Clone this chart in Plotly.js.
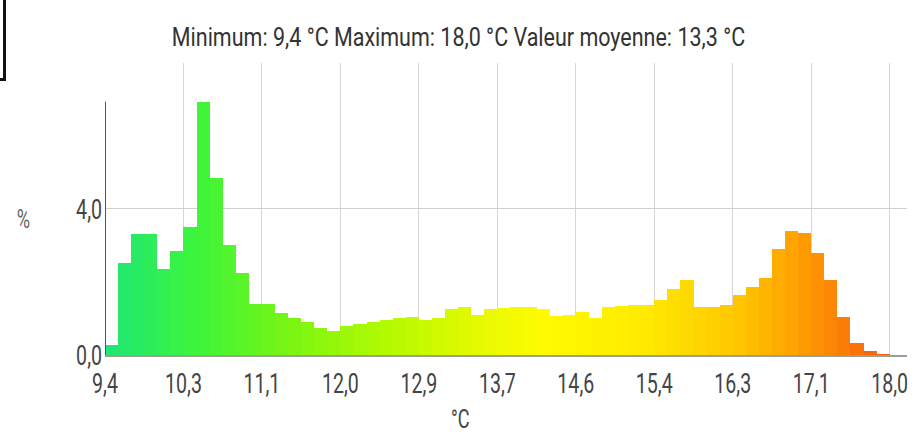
<!DOCTYPE html>
<html>
<head>
<meta charset="utf-8">
<script src="https://cdn.plot.ly/plotly-3.0.1.min.js"></script>
<style>
  html, body { margin: 0; padding: 0; background: #fff; }
  #chart { width: 917px; height: 437px; }
  #corner { position: absolute; left: -20px; top: -5px; width: 20px; height: 80px; border: 3px solid #111; }
</style>
</head>
<body>
<div id="chart"></div>
<div id="corner"></div>
<script>
// Data (60 bins between 9.4 and 18.0 °C)
const binStart = 9.4;
const binEnd = 18.0;
const percentages = [
  0.27, 2.52, 3.30, 3.30, 2.36, 2.85, 3.50, 6.93, 4.85, 3.00,
  2.25, 1.40, 1.40, 1.15, 1.00, 0.90, 0.75, 0.65, 0.80, 0.85,
  0.90, 0.95, 1.00, 1.05, 0.95, 1.00, 1.25, 1.32, 1.10, 1.25,
  1.28, 1.30, 1.32, 1.25, 1.08, 1.10, 1.18, 1.00, 1.30, 1.35,
  1.37, 1.37, 1.50, 1.80, 2.05, 1.30, 1.30, 1.37, 1.64, 1.86,
  2.10, 2.90, 3.40, 3.34, 2.80, 2.05, 1.04, 0.33, 0.10, 0.04
];
const tickValues = [9.4, 10.26, 11.12, 11.98, 12.84, 13.7, 14.56, 15.42, 16.28, 17.14, 18.0];
const tickLabels = ["9,4", "10,3", "11,1", "12,0", "12,9", "13,7", "14,6", "15,4", "16,3", "17,1", "18,0"];
const yTickValues = [0, 4];
const yTickLabels = ["0,0", "4,0"];
const titleText = "Minimum: 9,4 °C Maximum: 18,0 °C Valeur moyenne: 13,3 °C";
const yTitleText = "%";
const xTitleText = "°C";

const n = percentages.length;
const width = (binEnd - binStart) / n;
const centers = percentages.map((_, i) => binStart + width * (i + 0.5));

// colour ramp (style)
const stops = [
  [9.4, [30, 230, 120]],
  [10.4, [60, 245, 60]],
  [11.4, [120, 245, 20]],
  [12.5, [180, 250, 0]],
  [13.5, [230, 250, 0]],
  [14.2, [255, 250, 0]],
  [15.3, [255, 235, 0]],
  [16.3, [255, 200, 0]],
  [17.0, [255, 160, 0]],
  [17.7, [250, 110, 10]],
  [18.0, [235, 90, 15]]
];
function ramp(v) {
  for (let i = 0; i < stops.length - 1; i++) {
    const [a, ca] = stops[i], [b, cb] = stops[i + 1];
    if (v <= b) {
      const t = Math.max(0, (v - a) / (b - a));
      const c = ca.map((x, k) => Math.round(x + (cb[k] - x) * t));
      return `rgb(${c[0]},${c[1]},${c[2]})`;
    }
  }
  const c = stops[stops.length - 1][1];
  return `rgb(${c[0]},${c[1]},${c[2]})`;
}
const colors = centers.map(ramp);

const font = '"Segoe UI", Roboto, "Liberation Sans", sans-serif';

const trace = {
  type: 'bar',
  x: centers,
  y: percentages,
  width: width * 1.001,
  marker: { color: colors, line: { width: 0 } },
  hoverinfo: 'x+y'
};

const layout = {
  width: 917,
  height: 437,
  margin: { l: 105, r: 10, t: 63, b: 82 },
  paper_bgcolor: '#fff',
  plot_bgcolor: '#fff',
  showlegend: false,
  bargap: 0,
  title: {
    text: titleText,
    font: { family: font, size: 25, color: '#333' },
    x: 0.5, xref: 'container', xanchor: 'center',
    y: 0.915, yref: 'container', yanchor: 'middle'
  },
  xaxis: {
    range: [binStart, 18.19],
    tickvals: tickValues,
    ticktext: tickLabels,
    showgrid: true,
    gridcolor: '#d6d6d6',
    gridwidth: 1,
    zeroline: false,
    showline: true,
    linecolor: '#9aa08f',
    linewidth: 2,
    ticks: '',
    ticklabelstandoff: 2,
    tickfont: { family: font, size: 28, color: '#444' },
    fixedrange: true
  },
  yaxis: {
    range: [0, 7.99],
    tickvals: yTickValues,
    ticktext: yTickLabels,
    showgrid: true,
    gridcolor: '#cfcfcf',
    gridwidth: 1,
    zeroline: false,
    showline: false,
    ticks: '',
    ticklabelstandoff: 2,
    tickfont: { family: font, size: 28, color: '#444' },
    fixedrange: true
  },
  shapes: [{
    type: 'line', xref: 'x', yref: 'y',
    x0: binStart, x1: binStart, y0: 0, y1: Math.max(...percentages),
    line: { color: '#555', width: 2 }
  }],
  annotations: [
    { text: yTitleText, xref: 'paper', yref: 'paper', x: -0.102, y: 0.465, xanchor: 'center', yanchor: 'middle',
      showarrow: false, font: { family: font, size: 26, color: '#666' } },
    { text: xTitleText, xref: 'paper', yref: 'paper', x: 0.443, y: -0.22, xanchor: 'center', yanchor: 'middle',
      showarrow: false, borderpad: 0, font: { family: font, size: 26, color: '#444' } }
  ]
};

// horizontally condense text (the reference uses a tall, narrow face)
function squish(sel, s) {
  document.querySelectorAll(sel).forEach(t => {
    const x = parseFloat(t.getAttribute('x')) || 0;
    const tr = t.getAttribute('transform') || '';
    t.setAttribute('transform', `${tr} translate(${x},0) scale(${s},1) translate(${-x},0)`);
  });
}

Plotly.newPlot('chart', [trace], layout, { displayModeBar: false, staticPlot: true }).then(() => {
  squish('#chart .xtick text', 0.7);
  squish('#chart .ytick text', 0.7);
  squish('#chart .gtitle', 0.86);
  squish('#chart .annotation-text', 0.7);
});
</script>
</body>
</html>
